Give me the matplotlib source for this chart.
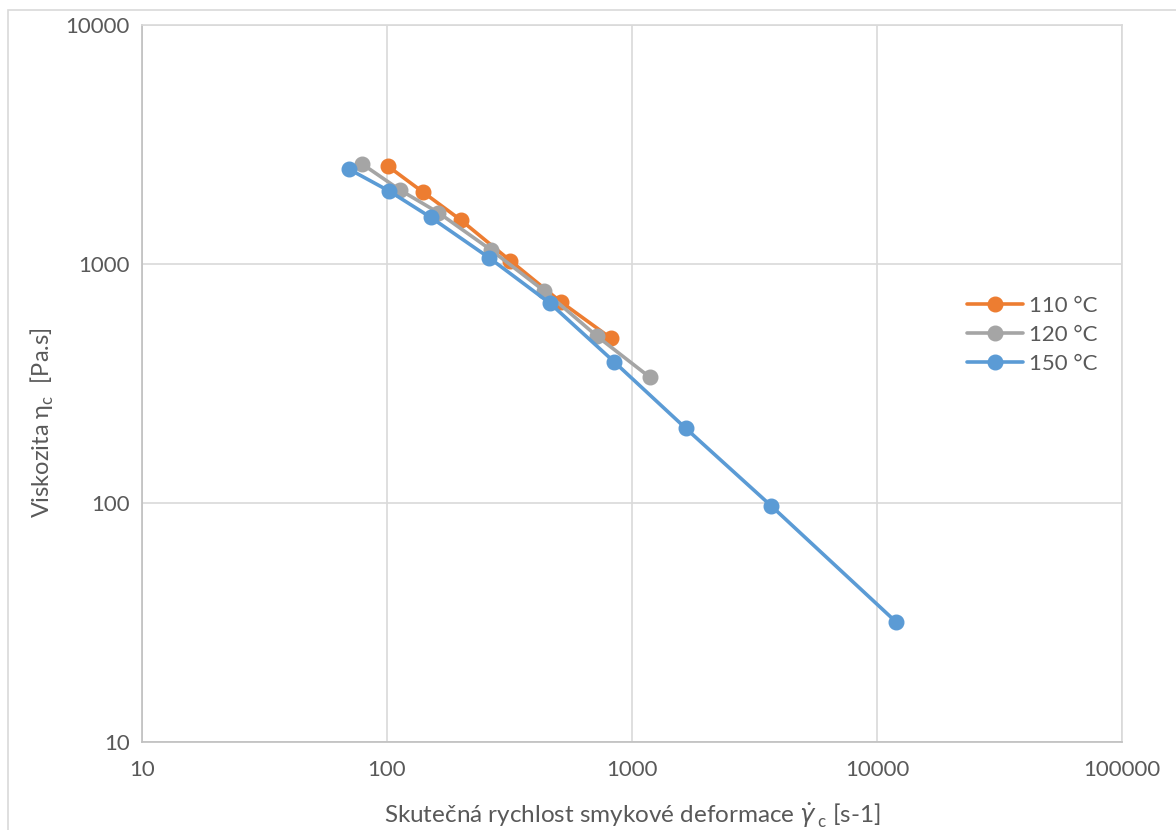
import matplotlib.pyplot as plt
from matplotlib.patches import Rectangle
from matplotlib.ticker import FixedLocator, NullLocator, FixedFormatter

plt.rcParams['font.family'] = ['Lato', 'DejaVu Sans']
plt.rcParams['mathtext.fontset'] = 'custom'
plt.rcParams['mathtext.rm'] = 'Lato'
plt.rcParams['mathtext.it'] = 'DejaVu Sans:italic'

# shear rate [1/s] and viscosity [Pa.s] per temperature
rate_110 = [100.7, 140.6, 200, 318.7, 511.7, 818.6]
visc_110 = [2570, 1995, 1528, 1032, 695, 490]

rate_120 = [79.3, 113, 161.9, 265.7, 438.6, 717.6, 1184]
visc_120 = [2618, 2040, 1641, 1145, 771, 500, 335.5]

rate_150 = [70.2, 102.1, 150.8, 260.8, 462.6, 844.6, 1656, 3690, 11920]
visc_150 = [2489, 2019, 1568, 1063, 685, 390, 205.5, 97.5, 31.9]

series = [
    ("110 °C", rate_110, visc_110, "#ED7D31"),
    ("120 °C", rate_120, visc_120, "#A5A5A5"),
    ("150 °C", rate_150, visc_150, "#5B9BD5"),
]

x_ticks = [10, 100, 1000, 10000, 100000]
y_ticks = [10, 100, 1000, 10000]

txt = "#595959"
fig = plt.figure(figsize=(11.76, 8.3), dpi=100)
fig.patches.append(Rectangle((8 / 1176, -0.1), 1.2, 0.1 + 820 / 830, transform=fig.transFigure,
                             fill=False, edgecolor="#d9d9d9", linewidth=1.2))
ax = fig.add_axes([142 / 1176, 88 / 830, 980 / 1176, 717 / 830])

for name, x, y, c in series:
    ax.plot(x, y, color=c, lw=2.6, marker="o", ms=10.5, label=name, solid_capstyle="round")

ax.set_xscale("log")
ax.set_yscale("log")
ax.set_xlim(10, 100000)
ax.set_ylim(10, 10000)
ax.xaxis.set_major_locator(FixedLocator(x_ticks))
ax.xaxis.set_major_formatter(FixedFormatter([str(v) for v in x_ticks]))
ax.yaxis.set_major_locator(FixedLocator(y_ticks))
ax.yaxis.set_major_formatter(FixedFormatter([str(v) for v in y_ticks]))
ax.xaxis.set_minor_locator(NullLocator())
ax.yaxis.set_minor_locator(NullLocator())

ax.grid(True, color="#d9d9d9", lw=1.2)
ax.set_axisbelow(True)
for s in ax.spines.values():
    s.set_color("#d9d9d9")
    s.set_linewidth(1.2)
ax.spines["left"].set_color("#bfbfbf")
ax.spines["bottom"].set_color("#bfbfbf")
ax.tick_params(length=0, labelsize=16, colors=txt, pad=13)
ax.tick_params(axis="y", pad=9)

ax.set_xlabel(r"Skutečná rychlost smykové deformace $\dot{\mathit{\gamma}}_{\,\mathrm{c}}$ [s-1]",
              fontsize=17.5, color=txt)
ax.set_ylabel(r"Viskozita η$_{\mathrm{c}}$  [Pa.s]", fontsize=17, color=txt)
ax.xaxis.set_label_coords(0.5, -0.082)
ax.yaxis.set_label_coords(-0.088, 0.445)

leg = ax.legend(loc="upper left", bbox_to_anchor=(0.833, 0.635), frameon=False, fontsize=16,
                handlelength=2.5, labelspacing=0.42, handletextpad=0.3, borderaxespad=0)
for t in leg.get_texts():
    t.set_color(txt)

fig.savefig("out.png", dpi=100)
